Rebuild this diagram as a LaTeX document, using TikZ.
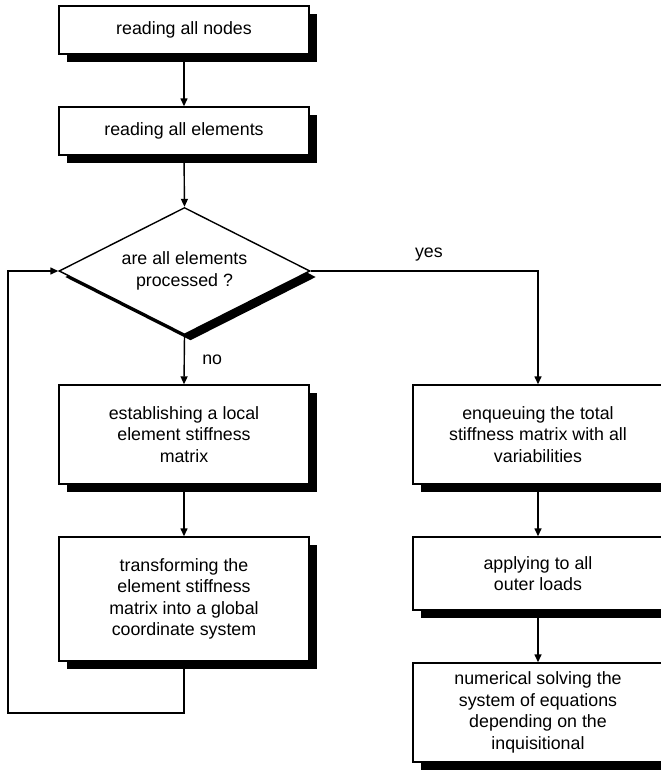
\documentclass[tikz,border=0pt]{standalone}
\usepackage{fontspec}
\setmainfont{Liberation Sans}
\usetikzlibrary{shapes.geometric,arrows.meta,shadows}

\tikzset{
  flowline/.style={line width=1.4pt},
  flowarrow/.style={flowline,-{Triangle[length=8pt,width=7pt]}},
  stepbox/.style={draw,line width=1.4pt,fill=white,rectangle,
    minimum width=250pt,inner sep=0pt,align=center,
    font=\fontsize{17.8pt}{21.5pt}\selectfont,
    drop shadow={shadow xshift=8pt,shadow yshift=-8pt,fill=black,opacity=1}},
  decision/.style={draw,line width=1.4pt,fill=white,diamond,shape aspect=1.98,
    minimum width=251pt,minimum height=127pt,inner sep=0pt,align=center,
    font=\fontsize{17.8pt}{22pt}\selectfont,
    drop shadow={shadow xshift=6pt,shadow yshift=-6pt,fill=black,opacity=1}},
  branchlabel/.style={font=\fontsize{17.8pt}{21pt}\selectfont}
}

\begin{document}
\begin{tikzpicture}[x=1pt,y=-1pt]
  \useasboundingbox (0,0) rectangle (661,771);
  \clip (0,0) rectangle (661,771);

  % left column
  \node[stepbox,minimum height=48pt] (nodes) at (184,30) {reading all nodes};
  \node[stepbox,minimum height=48pt] (elems) at (184,131) {reading all elements};
  \node[decision] (check) at (184.5,271) {are all elements\\processed ?};
  \node[stepbox,minimum height=99pt] (local) at (184,434.5)
    {establishing a local\\element stiffness\\matrix};
  \node[stepbox,minimum height=124pt] (global) at (184,599)
    {transforming the\\element stiffness\\matrix into a global\\coordinate system};

  % right column
  \node[stepbox,minimum height=99pt] (total) at (538,434.5)
    {enqueuing the total\\stiffness matrix with all\\variabilities};
  \node[stepbox,minimum height=73pt] (loads) at (538,573.5)
    {applying to all\\outer loads};
  \node[stepbox,minimum height=99pt] (solve) at (538,712.5)
    {numerical solving the\\system of equations\\depending on the\\inquisitional};

  % connectors
  \draw[flowarrow] (nodes.south) -- (elems.north);
  \draw[flowarrow] (elems.south) -- (check.north);
  \draw[flowarrow] (check.south) -- node[branchlabel,right=14pt,pos=0.5] (nolabel) {no} (local.north);
  \draw[flowarrow] (local.south) -- (global.north);

  \coordinate (yescorner) at (538,271);
  \draw[flowarrow] (check.east) -- node[branchlabel,above=6pt,pos=0.52] (yeslabel) {yes} (yescorner) -- (total.north);
  \draw[flowarrow] (total.south) -- (loads.north);
  \draw[flowarrow] (loads.south) -- (solve.north);

  % loop back to the decision
  \coordinate (loopdown) at (184,713);
  \coordinate (loopleft) at (8,713);
  \coordinate (loopup) at (8,271);
  \draw[flowarrow] (global.south) -- (loopdown) -- (loopleft) -- (loopup) -- (check.west);
\end{tikzpicture}
\end{document}
